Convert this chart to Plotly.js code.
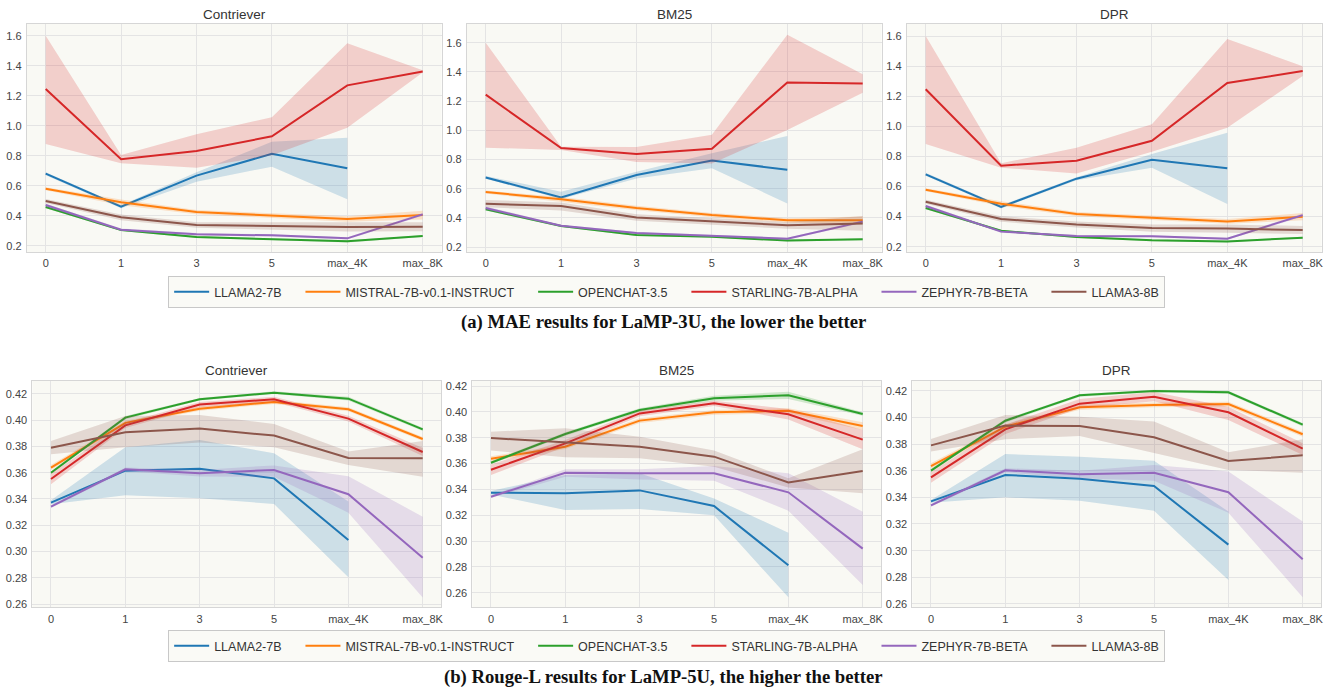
<!DOCTYPE html>
<html>
<head>
<meta charset="utf-8">
<script src="https://cdn.plot.ly/plotly-3.0.1.min.js"></script>
<style>html,body{margin:0;padding:0;background:#fff;}#chart{width:1328px;height:688px;}</style>
</head>
<body>
<div id="chart"></div>
<script>
// ---------- data ----------
const categories = ["0", "1", "3", "5", "max_4K", "max_8K"];
const models = ["LLAMA2-7B", "MISTRAL-7B-v0.1-INSTRUCT", "OPENCHAT-3.5", "STARLING-7B-ALPHA", "ZEPHYR-7B-BETA", "LLAMA3-8B"];
const colors = ["#1f77b4", "#ff7f0e", "#2ca02c", "#d62728", "#9467bd", "#8c564b"];
const retrievers = ["Contriever", "BM25", "DPR"];

// (a) MAE, LaMP-3U  (rows follow `models`)
const mae_contriever_mean = [
  [0.680, 0.460, 0.667, 0.813, 0.716, null],
  [0.580, 0.489, 0.424, 0.400, 0.378, 0.404],
  [0.458, 0.304, 0.258, 0.242, 0.229, 0.264],
  [1.245, 0.776, 0.831, 0.929, 1.269, 1.362],
  [0.471, 0.307, 0.276, 0.269, 0.249, 0.409],
  [0.498, 0.389, 0.338, 0.331, 0.324, 0.327]];
const mae_contriever_lo = [
  [0.670, 0.450, 0.627, 0.727, 0.509, null],
  [0.570, 0.470, 0.410, 0.385, 0.360, 0.375],
  [0.450, 0.298, 0.252, 0.236, 0.222, 0.258],
  [0.878, 0.749, 0.720, 0.803, 0.987, 1.355],
  [0.460, 0.300, 0.268, 0.262, 0.242, 0.400],
  [0.485, 0.370, 0.320, 0.305, 0.295, 0.297]];
const mae_contriever_hi = [
  [0.690, 0.470, 0.689, 0.893, 0.920, null],
  [0.590, 0.508, 0.438, 0.415, 0.396, 0.433],
  [0.466, 0.310, 0.264, 0.248, 0.236, 0.270],
  [1.600, 0.805, 0.943, 1.056, 1.549, 1.370],
  [0.482, 0.314, 0.284, 0.276, 0.256, 0.418],
  [0.511, 0.408, 0.356, 0.357, 0.353, 0.357]];

const mae_bm25_mean = [
  [0.677, 0.540, 0.693, 0.792, 0.730, null],
  [0.577, 0.527, 0.467, 0.419, 0.383, 0.383],
  [0.458, 0.344, 0.282, 0.271, 0.244, 0.253],
  [1.244, 0.878, 0.837, 0.874, 1.328, 1.321],
  [0.467, 0.346, 0.296, 0.275, 0.257, 0.374],
  [0.497, 0.481, 0.403, 0.376, 0.349, 0.362]];
const mae_bm25_lo = [
  [0.667, 0.529, 0.670, 0.739, 0.499, null],
  [0.567, 0.512, 0.452, 0.404, 0.368, 0.356],
  [0.450, 0.338, 0.276, 0.265, 0.238, 0.247],
  [0.881, 0.865, 0.782, 0.773, 1.002, 1.257],
  [0.456, 0.339, 0.289, 0.268, 0.250, 0.365],
  [0.472, 0.450, 0.380, 0.355, 0.325, 0.312]];
const mae_bm25_hi = [
  [0.687, 0.579, 0.716, 0.842, 0.961, null],
  [0.587, 0.542, 0.482, 0.434, 0.398, 0.410],
  [0.466, 0.350, 0.288, 0.277, 0.250, 0.259],
  [1.600, 0.887, 0.885, 0.970, 1.655, 1.383],
  [0.478, 0.353, 0.303, 0.282, 0.264, 0.383],
  [0.522, 0.505, 0.425, 0.397, 0.372, 0.412]];

const mae_dpr_mean = [
  [0.681, 0.464, 0.652, 0.778, 0.721, null],
  [0.579, 0.486, 0.417, 0.393, 0.368, 0.399],
  [0.457, 0.306, 0.264, 0.242, 0.235, 0.260],
  [1.246, 0.738, 0.771, 0.904, 1.288, 1.367],
  [0.470, 0.300, 0.271, 0.269, 0.253, 0.410],
  [0.499, 0.384, 0.348, 0.324, 0.320, 0.311]];
const mae_dpr_lo = [
  [0.671, 0.454, 0.642, 0.725, 0.483, null],
  [0.569, 0.470, 0.403, 0.378, 0.352, 0.375],
  [0.449, 0.300, 0.258, 0.236, 0.229, 0.254],
  [0.882, 0.725, 0.687, 0.831, 0.991, 1.334],
  [0.459, 0.293, 0.264, 0.262, 0.246, 0.400],
  [0.486, 0.365, 0.328, 0.300, 0.292, 0.285]];
const mae_dpr_hi = [
  [0.691, 0.474, 0.662, 0.816, 0.958, null],
  [0.589, 0.502, 0.431, 0.408, 0.384, 0.423],
  [0.465, 0.312, 0.270, 0.248, 0.241, 0.266],
  [1.600, 0.754, 0.858, 1.013, 1.580, 1.400],
  [0.481, 0.307, 0.278, 0.276, 0.260, 0.420],
  [0.512, 0.403, 0.368, 0.348, 0.348, 0.337]];

// (b) Rouge-L, LaMP-5U
const rouge_contriever_mean = [
  [0.3372, 0.3616, 0.3631, 0.3557, 0.3088, null],
  [0.3639, 0.3980, 0.4088, 0.4139, 0.4083, 0.3857],
  [0.3600, 0.4020, 0.4160, 0.4210, 0.4164, 0.3930],
  [0.3552, 0.3961, 0.4119, 0.4159, 0.4012, 0.3758],
  [0.3342, 0.3626, 0.3596, 0.3621, 0.3436, 0.2953],
  [0.3791, 0.3908, 0.3936, 0.3883, 0.3712, 0.3710]];
const rouge_contriever_lo = [
  [0.3360, 0.3428, 0.3405, 0.3362, 0.2803, null],
  [0.3620, 0.3965, 0.4073, 0.4124, 0.4068, 0.3842],
  [0.3588, 0.4008, 0.4150, 0.4200, 0.4150, 0.3918],
  [0.3512, 0.3940, 0.4099, 0.4139, 0.3990, 0.3728],
  [0.3332, 0.3612, 0.3571, 0.3570, 0.3296, 0.2650],
  [0.3740, 0.3794, 0.3830, 0.3794, 0.3659, 0.3570]];
const rouge_contriever_hi = [
  [0.3390, 0.3794, 0.3850, 0.3748, 0.3380, null],
  [0.3658, 0.3995, 0.4103, 0.4154, 0.4098, 0.3872],
  [0.3612, 0.4032, 0.4170, 0.4220, 0.4178, 0.3942],
  [0.3592, 0.3982, 0.4139, 0.4179, 0.4034, 0.3788],
  [0.3352, 0.3640, 0.3621, 0.3656, 0.3573, 0.3265],
  [0.3842, 0.4032, 0.4040, 0.3971, 0.3761, 0.3842]];

const rouge_bm25_mean = [
  [0.3374, 0.3369, 0.3392, 0.3271, 0.2812, null],
  [0.3637, 0.3730, 0.3932, 0.3996, 0.4009, 0.3890],
  [0.3606, 0.3828, 0.4014, 0.4105, 0.4128, 0.3983],
  [0.3552, 0.3756, 0.3988, 0.4066, 0.3981, 0.3785],
  [0.3343, 0.3529, 0.3524, 0.3524, 0.3377, 0.2941],
  [0.3797, 0.3761, 0.3730, 0.3653, 0.3454, 0.3542]];
const rouge_bm25_lo = [
  [0.3360, 0.3240, 0.3248, 0.3200, 0.2564, null],
  [0.3617, 0.3712, 0.3914, 0.3978, 0.3990, 0.3860],
  [0.3594, 0.3814, 0.4000, 0.4085, 0.4100, 0.3970],
  [0.3512, 0.3730, 0.3965, 0.4046, 0.3940, 0.3710],
  [0.3333, 0.3498, 0.3477, 0.3467, 0.3235, 0.2659],
  [0.3700, 0.3648, 0.3640, 0.3575, 0.3415, 0.3369]];
const rouge_bm25_hi = [
  [0.3388, 0.3511, 0.3524, 0.3330, 0.3064, null],
  [0.3657, 0.3748, 0.3950, 0.4014, 0.4028, 0.3920],
  [0.3618, 0.3842, 0.4028, 0.4125, 0.4156, 0.3996],
  [0.3592, 0.3782, 0.4011, 0.4086, 0.4022, 0.3860],
  [0.3353, 0.3555, 0.3555, 0.3581, 0.3524, 0.3227],
  [0.3846, 0.3872, 0.3808, 0.3700, 0.3485, 0.3710]];

const rouge_dpr_mean = [
  [0.3370, 0.3568, 0.3540, 0.3485, 0.3045, null],
  [0.3635, 0.3930, 0.4075, 0.4093, 0.4100, 0.3873],
  [0.3600, 0.3975, 0.4165, 0.4198, 0.4188, 0.3945],
  [0.3550, 0.3910, 0.4103, 0.4155, 0.4038, 0.3765],
  [0.3340, 0.3603, 0.3573, 0.3585, 0.3438, 0.2935],
  [0.3790, 0.3938, 0.3935, 0.3850, 0.3673, 0.3715]];
const rouge_dpr_lo = [
  [0.3360, 0.3400, 0.3375, 0.3300, 0.2780, null],
  [0.3615, 0.3912, 0.4057, 0.4075, 0.4082, 0.3855],
  [0.3588, 0.3962, 0.4155, 0.4188, 0.4176, 0.3932],
  [0.3510, 0.3875, 0.4068, 0.4120, 0.3980, 0.3718],
  [0.3330, 0.3588, 0.3543, 0.3525, 0.3285, 0.2650],
  [0.3743, 0.3835, 0.3860, 0.3735, 0.3605, 0.3585]];
const rouge_dpr_hi = [
  [0.3380, 0.3725, 0.3705, 0.3675, 0.3293, null],
  [0.3655, 0.3948, 0.4093, 0.4111, 0.4118, 0.3891],
  [0.3612, 0.3988, 0.4175, 0.4208, 0.4200, 0.3958],
  [0.3590, 0.3945, 0.4138, 0.4190, 0.4080, 0.3805],
  [0.3350, 0.3618, 0.3600, 0.3643, 0.3593, 0.3218],
  [0.3838, 0.4018, 0.4005, 0.3968, 0.3738, 0.3835]];

const captions = ["(a) MAE results for LaMP-3U, the lower the better", "(b) Rouge-L results for LaMP-5U, the higher the better"];

// ---------- layout geometry ----------
const W = 1328, H = 688;
const panels = [
  {mean: mae_contriever_mean, lo: mae_contriever_lo, hi: mae_contriever_hi, x: [26.85, 441.55], y: [24, 252], yr: [0.158, 1.678], dt: 0.2, fmt: ".1f", title: retrievers[0], legend: "legend"},
  {mean: mae_bm25_mean, lo: mae_bm25_lo, hi: mae_bm25_hi, x: [466.85, 881.55], y: [24, 252], yr: [0.166, 1.728], dt: 0.2, fmt: ".1f", title: retrievers[1], legend: null},
  {mean: mae_dpr_mean, lo: mae_dpr_lo, hi: mae_dpr_hi, x: [906.85, 1321.55], y: [24, 252], yr: [0.1646, 1.68], dt: 0.2, fmt: ".1f", title: retrievers[2], legend: null},
  {mean: rouge_contriever_mean, lo: rouge_contriever_lo, hi: rouge_contriever_hi, x: [32.4, 441.3], y: [380.7, 607.3], yr: [0.2575, 0.4301], dt: 0.02, fmt: ".2f", title: retrievers[0], legend: "legend2"},
  {mean: rouge_bm25_mean, lo: rouge_bm25_lo, hi: rouge_bm25_hi, x: [472.4, 881.3], y: [380.7, 607.3], yr: [0.2487, 0.4241], dt: 0.02, fmt: ".2f", title: retrievers[1], legend: null},
  {mean: rouge_dpr_mean, lo: rouge_dpr_lo, hi: rouge_dpr_hi, x: [912.4, 1321.3], y: [380.7, 607.3], yr: [0.2575, 0.4275], dt: 0.02, fmt: ".2f", title: retrievers[2], legend: null}
];

function rgba(hex, a) {
  const r = parseInt(hex.slice(1, 3), 16), g = parseInt(hex.slice(3, 5), 16), b = parseInt(hex.slice(5, 7), 16);
  return `rgba(${r},${g},${b},${a})`;
}

const FONT = "Liberation Sans, Arial, sans-serif";
const PAD = "\u00a0\u00a0\u00a0\u00a0";
const traces = [];
const layout = {
  width: W, height: H,
  margin: {l: 0, r: 0, t: 0, b: 0},
  paper_bgcolor: "#ffffff",
  plot_bgcolor: "#f9f9f4",
  font: {family: FONT, size: 11, color: "#444"},
  annotations: [],
  showlegend: true
};

panels.forEach((p, i) => {
  const n = i + 1;
  const xa = n === 1 ? "x" : "x" + n, ya = n === 1 ? "y" : "y" + n;
  models.forEach((m, k) => {
    traces.push({x: categories, y: p.lo[k], xaxis: xa, yaxis: ya, type: "scatter", mode: "lines",
      line: {width: 0, color: colors[k]}, showlegend: false, hoverinfo: "skip"});
    traces.push({x: categories, y: p.hi[k], xaxis: xa, yaxis: ya, type: "scatter", mode: "lines",
      line: {width: 0, color: colors[k]}, fill: "tonexty", fillcolor: rgba(colors[k], 0.2),
      showlegend: false, hoverinfo: "skip"});
    const t = {x: categories, y: p.mean[k], xaxis: xa, yaxis: ya, type: "scatter", mode: "lines",
      name: m + (k < models.length - 1 ? PAD : ""), line: {width: 2, color: colors[k]}, showlegend: !!p.legend};
    if (p.legend) t.legend = p.legend;
    traces.push(t);
  });
  const axisCommon = {showgrid: true, gridcolor: "#e4e4e4", gridwidth: 1, zeroline: false,
    showline: true, mirror: true, linecolor: "#d6d6d6", linewidth: 1, ticks: "",
    tickfont: {family: FONT, size: 11, color: "#444"}};
  layout["xaxis" + (n === 1 ? "" : n)] = Object.assign({}, axisCommon, {
    domain: [p.x[0] / W, p.x[1] / W], anchor: ya, type: "category",
    range: [-0.25, 5.25], ticklabelstandoff: 1});
  layout["yaxis" + (n === 1 ? "" : n)] = Object.assign({}, axisCommon, {
    domain: [1 - p.y[1] / H, 1 - p.y[0] / H], anchor: xa,
    range: p.yr, dtick: p.dt, tick0: 0, tickformat: p.fmt, ticklabelstandoff: 2});
  layout.annotations.push({text: p.title, xref: "paper", yref: "paper",
    x: (p.x[0] + p.x[1]) / 2 / W, y: 1 - (p.y[0] - 10) / H, xanchor: "center", yanchor: "middle",
    showarrow: false, font: {family: FONT, size: 13.5, color: "#333"}});
});

const capFont = {family: "Liberation Serif, Times New Roman, serif", size: 18.7, color: "#111"};
layout.annotations.push({text: "<b>" + captions[0] + "</b>", xref: "paper", yref: "paper",
  x: 0.4995, y: 1 - 322 / H, xanchor: "center", yanchor: "middle", showarrow: false, font: capFont});
layout.annotations.push({text: "<b>" + captions[1] + "</b>", xref: "paper", yref: "paper",
  x: 0.4995, y: 1 - 677 / H, xanchor: "center", yanchor: "middle", showarrow: false, font: capFont});

const legendCommon = {orientation: "h", xanchor: "center", yanchor: "top", x: 0.502,
  bgcolor: "#fafaf6", bordercolor: "#c8c8c8", borderwidth: 1, traceorder: "normal",
  font: {family: FONT, size: 12.5, color: "#333"}, itemwidth: 35, tracegroupgap: 0};
layout.legend = Object.assign({}, legendCommon, {y: 1 - 276 / H});
layout.legend2 = Object.assign({}, legendCommon, {y: 1 - 630 / H});

Plotly.newPlot("chart", traces, layout, {displayModeBar: false, staticPlot: true});
</script>
</body>
</html>
